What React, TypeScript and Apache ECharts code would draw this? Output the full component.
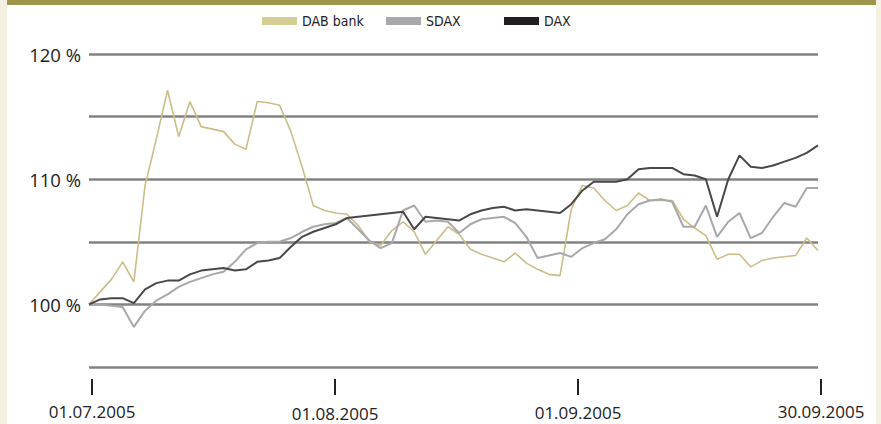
import React, { useEffect, useRef } from "react";
import * as echarts from "echarts";

// Trading days 01.07.2005 – 30.09.2005, indexed 0..65 (performance in %)
const seriesNames = ["DAB bank", "SDAX", "DAX"];

const dabBank = [
  100.0, 101.0, 102.0, 103.4, 101.8, 109.5, 113.2, 117.1, 113.4, 116.2,
  114.2, 114.0, 113.8, 112.8, 112.4, 116.2, 116.1, 115.9, 113.8, 111.0,
  107.9, 107.5, 107.3, 107.2, 106.3, 105.0, 104.7, 105.9, 106.6, 105.8,
  104.0, 105.1, 106.2, 105.6, 104.4, 104.0, 103.7, 103.4, 104.1, 103.3,
  102.8, 102.4, 102.3, 107.6, 109.5, 109.3, 108.3, 107.5, 107.9, 108.9,
  108.3, 108.3, 108.3, 106.8, 106.1, 105.5, 103.6, 104.0, 104.0, 103.0,
  103.5, 103.7, 103.8, 103.9, 105.3, 104.3,
];

const sdax = [
  100.0, 100.0, 99.9, 99.8, 98.2, 99.5, 100.3, 100.8, 101.4, 101.8,
  102.1, 102.4, 102.6, 103.4, 104.4, 104.9, 105.0, 105.0, 105.3, 105.8,
  106.2, 106.4, 106.5, 106.9, 106.0, 105.1, 104.5, 104.9, 107.5, 107.9,
  106.6, 106.7, 106.6, 105.7, 106.4, 106.8, 106.9, 107.0, 106.5, 105.4,
  103.7, 103.9, 104.1, 103.8, 104.5, 104.9, 105.2, 106.0, 107.2, 108.0,
  108.3, 108.4, 108.2, 106.2, 106.2, 107.9, 105.4, 106.6, 107.3, 105.3,
  105.7, 107.0, 108.1, 107.8, 109.3, 109.3,
];

const dax = [
  100.0, 100.4, 100.5, 100.5, 100.1, 101.2, 101.7, 101.9, 101.9, 102.4,
  102.7, 102.8, 102.9, 102.7, 102.8, 103.4, 103.5, 103.7, 104.6, 105.4,
  105.8, 106.1, 106.4, 106.9, 107.0, 107.1, 107.2, 107.3, 107.4, 106.0,
  107.0, 106.9, 106.8, 106.7, 107.2, 107.5, 107.7, 107.8, 107.5, 107.6,
  107.5, 107.4, 107.3, 108.0, 109.1, 109.8, 109.8, 109.8, 110.0, 110.8,
  110.9, 110.9, 110.9, 110.4, 110.3, 110.0, 107.0, 110.0, 111.9, 111.0,
  110.9, 111.1, 111.4, 111.7, 112.1, 112.7,
];

const dateTicks = ["01.07.2005", "01.08.2005", "01.09.2005", "30.09.2005"];
const yTicks = [95, 100, 105, 110, 115, 120];

const lineColors = ["#cbbd88", "#a9a7ab", "#4a4747"];
const swatchColors = ["#d6cf95", "#a9a9ad", "#231f20"];

const toPairs = (arr: number[]) => arr.map((v, i) => [i, v]);

export default function App() {
  const ref = useRef<HTMLDivElement>(null);

  useEffect(() => {
    if (!ref.current) return;
    const chart = echarts.init(ref.current, undefined, { renderer: "svg" });
    const legendFont = "'Liberation Sans Narrow', 'DejaVu Sans Condensed', 'Arial Narrow', sans-serif";
    const labelFont = "'Open Sans', 'Noto Sans', sans-serif";
    const legendLefts = [262, 386, 504];
    const labelStyles = ["a", "b", "c", "d"];
    const richBase = { fontSize: 17, lineHeight: 16, fontFamily: labelFont, color: "#222" };

    chart.setOption({
      animation: false,
      backgroundColor: "transparent",
      legend: seriesNames.map((name, i) => ({
        left: legendLefts[i],
        top: 14,
        icon: "rect",
        itemWidth: 35,
        itemHeight: 8,
        selectedMode: false,
        padding: 0,
        data: [{ name, itemStyle: { color: swatchColors[i] } }],
        textStyle: {
          fontFamily: legendFont,
          fontSize: 14,
          color: "#222",
        },
      })),
      grid: [
        { left: 89, right: 63, top: 54, bottom: 424 - 367 },
        { left: 92, right: 60, top: 378, height: 1 },
      ],
      xAxis: [
        {
          gridIndex: 0,
          type: "value",
          min: 0,
          max: dax.length - 1,
          show: false,
        },
        {
          gridIndex: 1,
          type: "value",
          min: 0,
          max: dateTicks.length - 1,
          interval: 1,
          axisLine: { show: false },
          splitLine: { show: false },
          axisTick: { show: true, length: 16, lineStyle: { color: "#222", width: 2 } },
          axisLabel: {
            margin: 24,
            fontFamily: labelFont,
            fontSize: 17,
            color: "#222",
            formatter: (v: number) => {
              const i = Math.round(v);
              return `{${labelStyles[i]}|${dateTicks[i]}}`;
            },
            rich: {
              a: { ...richBase, padding: [0, 0, 0, 0] },
              b: { ...richBase, padding: [4, 0, 0, 0] },
              c: { ...richBase, padding: [3, 0, 0, 0] },
              d: { ...richBase, padding: [0, 0, 0, 0] },
            },
          },
        },
      ],
      yAxis: [
        {
          gridIndex: 0,
          type: "value",
          min: yTicks[0],
          max: yTicks[yTicks.length - 1],
          interval: 5,
          axisLine: { show: false },
          axisTick: { show: false },
          splitLine: { show: true, lineStyle: { color: "#828282", width: 2.5 } },
          axisLabel: {
            margin: 8,
            fontFamily: labelFont,
            fontSize: 18.5,
            color: "#222",
            formatter: (v: number) => (v % 10 === 0 ? `${v} %` : ""),
          },
        },
        { gridIndex: 1, type: "value", show: false },
      ],
      series: [dabBank, sdax, dax].map((arr, i) => ({
        name: seriesNames[i],
        type: "line",
        xAxisIndex: 0,
        yAxisIndex: 0,
        data: toPairs(arr),
        symbol: "none",
        lineStyle: { color: lineColors[i], width: i === 0 ? 1.6 : 2 },
        itemStyle: { color: lineColors[i] },
        z: 2 + i,
      })),
    });

    return () => chart.dispose();
  }, []);

  return (
    <div
      style={{
        position: "fixed",
        left: 0,
        top: 0,
        width: 881,
        height: 424,
        background: "#f4f1e3",
      }}
    >
      <div
        style={{
          position: "absolute",
          left: 7,
          top: 0,
          width: 869,
          height: 424,
          background: "#ffffff",
          borderTop: "5px solid #9d9549",
          boxSizing: "border-box",
        }}
      />
      <div ref={ref} style={{ position: "absolute", left: 0, top: 0, width: 881, height: 424 }} />
    </div>
  );
}
